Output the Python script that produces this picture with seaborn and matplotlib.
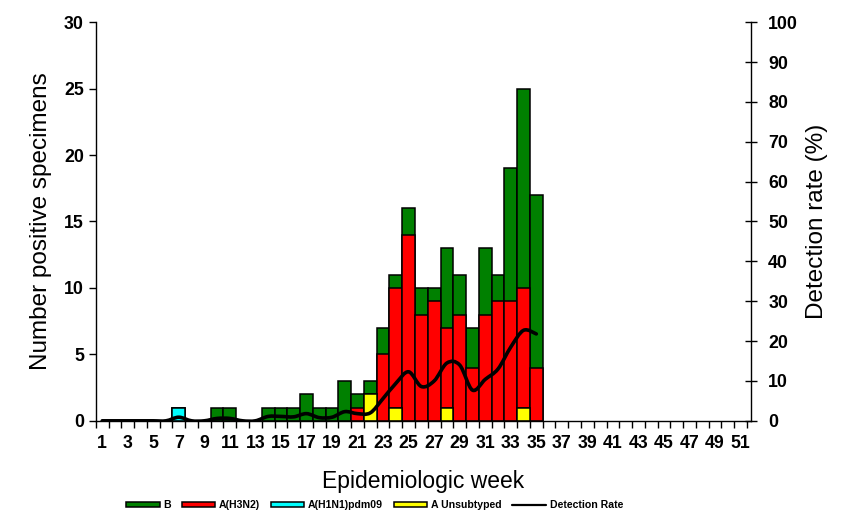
import matplotlib
matplotlib.use("Agg")
import matplotlib.pyplot as plt
import seaborn as sns
import pandas as pd
from matplotlib.path import Path
from matplotlib.patches import PathPatch, Patch
from matplotlib.lines import Line2D

# weeks 1..35 carry data; the axis runs on to week 52
weeks = list(range(1, 36))
flu_b = [0, 0, 0, 0, 0, 0, 0, 0, 0, 1, 1, 0, 0, 1, 1, 1, 2, 1, 1, 3,
         1, 1, 2, 1, 2, 2, 1, 6, 3, 3, 5, 2, 10, 15, 13]
h3n2 = [0, 0, 0, 0, 0, 0, 0, 0, 0, 0, 0, 0, 0, 0, 0, 0, 0, 0, 0, 0,
        1, 0, 5, 9, 14, 8, 9, 6, 8, 4, 8, 9, 9, 9, 4]
h1n1 = [0, 0, 0, 0, 0, 0, 1, 0, 0, 0, 0, 0, 0, 0, 0, 0, 0, 0, 0, 0,
        0, 0, 0, 0, 0, 0, 0, 0, 0, 0, 0, 0, 0, 0, 0]
unsub = [0, 0, 0, 0, 0, 0, 0, 0, 0, 0, 0, 0, 0, 0, 0, 0, 0, 0, 0, 0,
         0, 2, 0, 1, 0, 0, 0, 1, 0, 0, 0, 0, 0, 1, 0]
detection_rate = [0, 0, 0, 0, 0, 0, 0.9, 0, 0, 0.6, 0.6, 0, 0, 1.1, 1.1, 1.0,
                  1.8, 0.8, 0.9, 2.3, 1.8, 2.0, 5.6, 9.4, 12.3, 8.6, 10.0,
                  14.5, 14.0, 7.7, 10.4, 13.0, 18.5, 22.7, 21.8]

all_weeks = [str(w) for w in range(1, 53)]
week_labels = [str(w) for w in range(1, 52, 2)]

COLORS = {"B": "#008000", "A(H3N2)": "#FF0000",
          "A(H1N1)pdm09": "#00FFFF", "A Unsubtyped": "#FFFF00"}


def smooth_path(xs, ys):
    # Catmull-Rom through the points, written as cubic Bezier segments
    verts = [(xs[0], ys[0])]
    codes = [Path.MOVETO]
    n = len(xs)
    for i in range(n - 1):
        x0, y0 = (xs[i - 1], ys[i - 1]) if i > 0 else (xs[i], ys[i])
        x1, y1 = xs[i], ys[i]
        x2, y2 = xs[i + 1], ys[i + 1]
        x3, y3 = (xs[i + 2], ys[i + 2]) if i + 2 < n else (x2, y2)
        verts += [(x1 + (x2 - x0) / 6, y1 + (y2 - y0) / 6),
                  (x2 - (x3 - x1) / 6, y2 - (y3 - y1) / 6),
                  (x2, y2)]
        codes += [Path.CURVE4] * 3
    return Path(verts, codes)


def main():
    sns.set_theme(style="white")
    plt.rcParams["font.family"] = ["Liberation Sans", "DejaVu Sans"]
    for key in ["text.color", "axes.labelcolor", "xtick.color", "ytick.color",
                "axes.edgecolor"]:
        plt.rcParams[key] = "black"

    df = pd.DataFrame({"week": [str(w) for w in weeks], "B": flu_b,
                       "A(H3N2)": h3n2, "A(H1N1)pdm09": h1n1,
                       "A Unsubtyped": unsub})
    # cumulative tops, drawn from the tallest layer down
    df["top_unsub"] = df["A Unsubtyped"]
    df["top_h1"] = df["top_unsub"] + df["A(H1N1)pdm09"]
    df["top_h3"] = df["top_h1"] + df["A(H3N2)"]
    df["top_b"] = df["top_h3"] + df["B"]

    fig, ax = plt.subplots(figsize=(8.63, 5.28), dpi=100)
    fig.subplots_adjust(left=0.111, right=0.870, bottom=0.203, top=0.958)

    layers = [("top_b", "B"), ("top_h3", "A(H3N2)"),
              ("top_h1", "A(H1N1)pdm09"), ("top_unsub", "A Unsubtyped")]
    for col, name in layers:
        sub = df[df[col] > 0]
        sns.barplot(data=sub, x="week", y=col, order=all_weeks, ax=ax,
                    color=COLORS[name], saturation=1, width=1,
                    edgecolor="black", linewidth=1.1, errorbar=None)

    ax.set_xlim(-0.5, 50.8)
    ax.set_ylim(0, 30)
    ax.set_yticks(range(0, 31, 5))
    ax.set_xticks([int(w) - 1 for w in week_labels])
    ax.set_xticklabels(week_labels)
    ax.set_xticks([i - 0.5 for i in range(52)], minor=True)
    ax.tick_params(axis="x", which="major", length=0, pad=10)
    ax.tick_params(axis="x", which="minor", length=5, width=1, color="black",
                   direction="out", bottom=True)
    ax.tick_params(axis="y", length=5, width=1, color="black",
                   direction="out", left=True)
    for lab in ax.get_xticklabels() + ax.get_yticklabels():
        lab.set_fontsize(12.8)
        lab.set_fontweight("bold")
    ax.set_xlabel("Epidemiologic week", fontsize=16.5, labelpad=13)
    ax.set_ylabel("Number positive specimens", fontsize=17.5, labelpad=9)
    for side in ["top", "right"]:
        ax.spines[side].set_visible(False)
    for side in ["left", "bottom"]:
        ax.spines[side].set_color("black")
        ax.spines[side].set_linewidth(1)

    ax2 = ax.twinx()
    ax2.set_ylim(0, 100)
    ax2.set_yticks(range(0, 101, 10))
    ax2.tick_params(axis="y", length=9, width=1, color="black",
                    direction="inout", right=True, pad=8)
    for lab in ax2.get_yticklabels():
        lab.set_fontsize(12.8)
        lab.set_fontweight("bold")
    ax2.set_ylabel("Detection rate (%)", fontsize=17.5, labelpad=6)
    for side in ["top", "left", "bottom"]:
        ax2.spines[side].set_visible(False)
    ax2.spines["right"].set_color("black")
    ax2.spines["right"].set_linewidth(1)
    ax2.grid(False)

    xs = [w - 1 for w in weeks]
    ax2.add_patch(PathPatch(smooth_path(xs, detection_rate), facecolor="none",
                            edgecolor="black", linewidth=2.6,
                            capstyle="round", joinstyle="round"))

    handles = [Patch(facecolor=COLORS[n], edgecolor="black", linewidth=1.1, label=n)
               for n in ["B", "A(H3N2)", "A(H1N1)pdm09", "A Unsubtyped"]]
    handles.append(Line2D([], [], color="black", linewidth=1.6, label="Detection Rate"))
    fig.legend(handles=handles, loc="center", bbox_to_anchor=(0.434, 0.043),
               ncol=5, frameon=False, handlelength=3.2, handleheight=0.45,
               handletextpad=0.35, columnspacing=1.0,
               prop={"family": ["Liberation Sans Narrow", "Liberation Sans"],
                     "weight": "bold", "size": 7.6})

    fig.savefig("out.png", dpi=100)
    plt.close(fig)


if __name__ == "__main__":
    main()
